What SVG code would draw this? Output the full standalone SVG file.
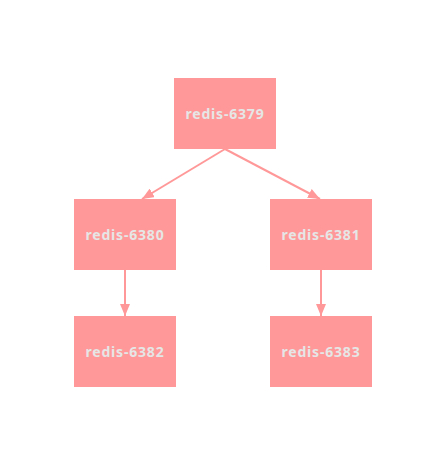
<svg xmlns="http://www.w3.org/2000/svg" width="433" height="449" viewBox="0 0 433 449">
<defs>
<marker id="arr" viewBox="0 0 12 10" refX="12" refY="5" markerWidth="12" markerHeight="10" markerUnits="userSpaceOnUse" orient="auto">
<path d="M0,0 L12,5 L0,10 Z" fill="#ff9999"/>
</marker>
<style>
.box{fill:#ff9999;}
.lbl{font-family:"Noto Sans",sans-serif;font-weight:bold;font-size:14px;letter-spacing:0.8px;fill:#e6e6e6;text-anchor:middle;dominant-baseline:central;}
.edge{stroke:#ff9999;stroke-width:2;fill:none;marker-end:url(#arr);}
</style>
</defs>
<rect width="433" height="449" fill="#ffffff"/>
<g id="connectors">
<line class="edge" x1="225" y1="149" x2="142" y2="199"/>
<line class="edge" x1="225" y1="149" x2="320" y2="199"/>
<line class="edge" x1="125" y1="270" x2="125" y2="316"/>
<line class="edge" x1="321" y1="270" x2="321" y2="316"/>
</g>
<g id="n6379"><rect class="box" x="174" y="78" width="102" height="71"/><text class="lbl" x="225" y="113.5">redis-6379</text></g>
<g id="n6380"><rect class="box" x="74" y="199" width="102" height="71"/><text class="lbl" x="125" y="234.5">redis-6380</text></g>
<g id="n6381"><rect class="box" x="270" y="199" width="102" height="71"/><text class="lbl" x="321" y="234.5">redis-6381</text></g>
<g id="n6382"><rect class="box" x="74" y="316" width="102" height="71"/><text class="lbl" x="125" y="351.5">redis-6382</text></g>
<g id="n6383"><rect class="box" x="270" y="316" width="102" height="71"/><text class="lbl" x="321" y="351.5">redis-6383</text></g>
</svg>
